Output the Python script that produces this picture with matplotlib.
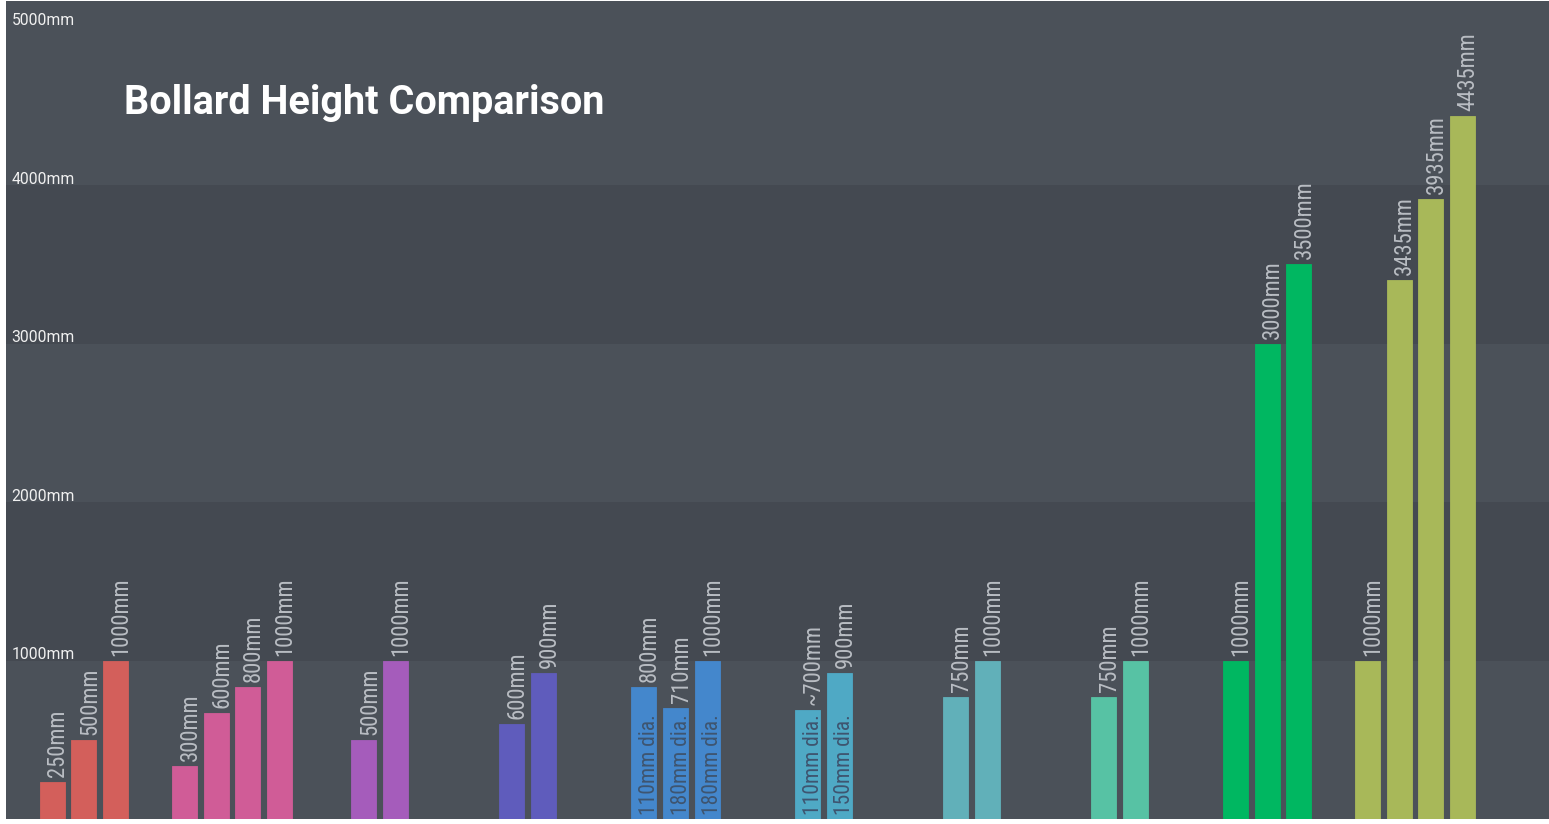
import matplotlib
matplotlib.use("Agg")
import matplotlib.pyplot as plt
import matplotlib.transforms as mtransforms
from matplotlib.font_manager import fontManager

# ---------------- data ----------------
title = "Bollard Height Comparison"
group_colors = ["#d35f5b", "#d05c97", "#a55cbb", "#5f5cbc", "#4487cc",
                "#4fa9c5", "#61b0b9", "#57c2a4", "#00b761", "#a8b859"]
group_values = [
    [235, 500, 1000],
    [335, 670, 833, 1000],
    [500, 1000],
    [600, 920],
    [833, 700, 1000],
    [688, 920],
    [770, 1000],
    [770, 1000],
    [1000, 3000, 3500],
    [1000, 3400, 3912, 4437],
]
group_labels = [
    ["250mm", "500mm", "1000mm"],
    ["300mm", "600mm", "800mm", "1000mm"],
    ["500mm", "1000mm"],
    ["600mm", "900mm"],
    ["800mm", "710mm", "1000mm"],
    ["~700mm", "900mm"],
    ["750mm", "1000mm"],
    ["750mm", "1000mm"],
    ["1000mm", "3000mm", "3500mm"],
    ["1000mm", "3435mm", "3935mm", "4435mm"],
]
inner_labels = [
    None, None, None, None,
    ["110mm dia.", "180mm dia.", "180mm dia."],
    ["110mm dia.", "150mm dia."],
    None, None, None, None,
]
y_ticks = [1000, 2000, 3000, 4000, 5000]
y_tick_labels = ["1000mm", "2000mm", "3000mm", "4000mm", "5000mm"]

# ---------------- fonts ----------------
names = {f.name for f in fontManager.ttflist}
cond = [n for n in ["Roboto Condensed", "Roboto"] if n in names] + ["DejaVu Sans"]
base = [n for n in ["Roboto"] if n in names] + ["DejaVu Sans"]

# ---------------- figure ----------------
W, H = 1549, 824
fig = plt.figure(figsize=(W / 100, H / 100), dpi=100)
fig.patch.set_facecolor("white")
ax = fig.add_axes([6 / W, 5 / H, 1543 / W, 818 / H])
ax.set_xlim(-0.527, 9.905)
ax.set_ylim(0, 5161)
ax.set_facecolor("#4b5159")
for s in ax.spines.values():
    s.set_visible(False)
ax.set_xticks([])
ax.set_yticks([])

# alternating bands
band_edges = [0] + y_ticks[:-1] + [5161]
for k in range(len(band_edges) - 1):
    col = "#4b5159" if k % 2 == 0 else "#444951"
    ax.axhspan(band_edges[k], band_edges[k + 1], color=col, lw=0, zorder=0)

# y labels
lab_tr = mtransforms.blended_transform_factory(ax.transAxes, ax.transData)
for v, t in zip(y_ticks, y_tick_labels):
    ax.annotate(t, xy=(0, v), xycoords=lab_tr, xytext=(4, 0.8), textcoords="offset points",
                ha="left", va="baseline", color="#f0f0f0", fontsize=11.3, family=base)

bar_w = 0.169
bar_step = 0.214
for gi, (vals, labs, col) in enumerate(zip(group_values, group_labels, group_colors)):
    n = len(vals)
    xs = [gi + (j - (n - 1) / 2) * bar_step for j in range(n)]
    ax.bar(xs, vals, width=bar_w, color=col, edgecolor=col, linewidth=0.6, zorder=2)
    for j, (x, v, lab) in enumerate(zip(xs, vals, labs)):
        ax.annotate(lab, xy=(x, v), xytext=(4, 3.5), textcoords="offset points",
                    rotation=90, ha="center", va="bottom", color="#b9bdc3",
                    fontsize=16.3, fontweight="normal", family=cond, zorder=3)
        if inner_labels[gi] is not None:
            ax.annotate(inner_labels[gi][j], xy=(x, 0), xytext=(4, 3), textcoords="offset points",
                        rotation=90, ha="center", va="bottom", color="#3e5570",
                        fontsize=15.5, fontweight="normal", family=cond, zorder=3)

fig.text(124 / W, 1 - 114 / H, title, ha="left", va="baseline", color="white",
         fontsize=28.5, fontweight="bold", family=base)

fig.savefig("out.png", dpi=100)
